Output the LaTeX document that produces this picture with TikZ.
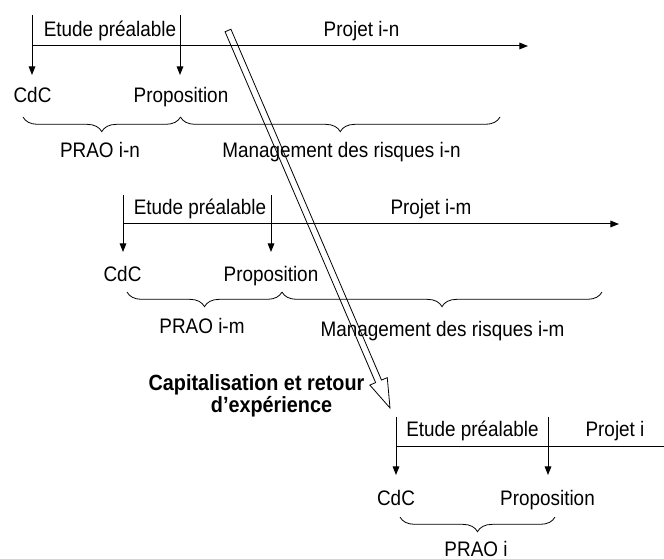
\documentclass[tikz,border=0pt]{standalone}
\usepackage{fontspec}
\setmainfont{Liberation Sans}[FakeStretch=0.9]
\usetikzlibrary{arrows.meta,calc,decorations.pathreplacing}
\begin{document}
\begin{tikzpicture}[x=0.75pt,y=-0.75pt,
  lbl/.style={anchor=base,inner sep=0pt,font=\fontsize{15.75pt}{19pt}\selectfont},
  caplbl/.style={anchor=base,inner sep=0pt,font=\fontsize{16.5pt}{20pt}\selectfont\bfseries},
  tl/.style={line width=0.75pt},
  tlarrow/.style={tl,-{Triangle[length=6.5pt,width=5pt]}},
  bracebelow/.style={line width=0.6pt,decorate,decoration={brace,mirror,amplitude=11pt}},
  feedback/.style={line width=0.6pt,line join=miter}
]
\useasboundingbox (0,0) rectangle (664,559);

% ---------- Projet i-n ----------
\coordinate (n-a) at (32,15);
\coordinate (n-ad) at (32,75);
\coordinate (n-b) at (180,15);
\coordinate (n-bd) at (180,75);
\coordinate (n-s) at (32,46);
\coordinate (n-e) at (528,46);
\coordinate (n-p1) at (23,117);
\coordinate (n-p2) at (180.5,117);
\coordinate (n-p3) at (500,117);
\node[lbl] (n-etude) at (110,37) {Etude préalable};
\node[lbl] (n-projet) at (361.5,37) {Projet i-n};
\node[lbl] (n-cdc) at (32.5,103) {CdC};
\node[lbl] (n-prop) at (181,103) {Proposition};
\node[lbl] (n-prao) at (100,158) {PRAO i-n};
\node[lbl] (n-mgmt) at (341.5,158) {Management des risques i-n};
\draw[tlarrow] (n-s) -- (n-e);
\draw[tlarrow] (n-a) -- (n-ad);
\draw[tlarrow] (n-b) -- (n-bd);
\draw[bracebelow] (n-p1) -- (n-p2);
\draw[bracebelow] (n-p2) -- (n-p3);

% ---------- Projet i-m ----------
\coordinate (m-a) at (123,195);
\coordinate (m-ad) at (123,252);
\coordinate (m-b) at (271,195);
\coordinate (m-bd) at (271,252);
\coordinate (m-s) at (123,224);
\coordinate (m-e) at (619,224);
\coordinate (m-p1) at (127,292);
\coordinate (m-p2) at (282,292);
\coordinate (m-p3) at (602,292);
\node[lbl] (m-etude) at (200,215) {Etude préalable};
\node[lbl] (m-projet) at (431,215) {Projet i-m};
\node[lbl] (m-cdc) at (122.5,282) {CdC};
\node[lbl] (m-prop) at (271,282) {Proposition};
\node[lbl] (m-prao) at (202,334) {PRAO i-m};
\node[lbl] (m-mgmt) at (442.5,337) {Management des risques i-m};
\draw[tlarrow] (m-s) -- (m-e);
\draw[tlarrow] (m-a) -- (m-ad);
\draw[tlarrow] (m-b) -- (m-bd);
\draw[bracebelow] (m-p1) -- (m-p2);
\draw[bracebelow] (m-p2) -- (m-p3);

% ---------- Projet i ----------
\coordinate (i-a) at (396,417);
\coordinate (i-ad) at (396,475);
\coordinate (i-b) at (548,417);
\coordinate (i-bd) at (548,475);
\coordinate (i-s) at (396,447);
\coordinate (i-e) at (664,447);
\coordinate (i-p1) at (400,517);
\coordinate (i-p2) at (555,517);
\node[lbl] (i-etude) at (472.5,436.5) {Etude préalable};
\node[lbl] (i-projet) at (615,436.5) {Projet i};
\node[lbl] (i-cdc) at (396,505) {CdC};
\node[lbl] (i-prop) at (547.5,505) {Proposition};
\node[lbl] (i-prao) at (476,556) {PRAO i};
\draw[tl] (i-s) -- (i-e);
\draw[tlarrow] (i-a) -- (i-ad);
\draw[tlarrow] (i-b) -- (i-bd);
\draw[bracebelow] (i-p1) -- (i-p2);

% ---------- Capitalisation : hollow arrow from i-n down to i ----------
\node[caplbl] (cap1) at (256.5,391) {Capitalisation et retour};
\node[caplbl] (cap2) at (271.5,413) {d’expérience};
\coordinate (fb-s) at (228,30.5);
\coordinate (fb-t) at (390,408);
\coordinate (fb-h) at ($(fb-t)!21.75pt!(fb-s)$);
\draw[feedback]
  ($(fb-s)!2.4pt!90:(fb-t)$) -- ($(fb-h)!2.4pt!90:(fb-t)$) --
  ($(fb-h)!7.1pt!90:(fb-t)$) -- (fb-t) --
  ($(fb-h)!7.1pt!-90:(fb-t)$) -- ($(fb-h)!2.4pt!-90:(fb-t)$) --
  ($(fb-s)!2.4pt!-90:(fb-t)$) -- cycle;
\end{tikzpicture}
\end{document}
